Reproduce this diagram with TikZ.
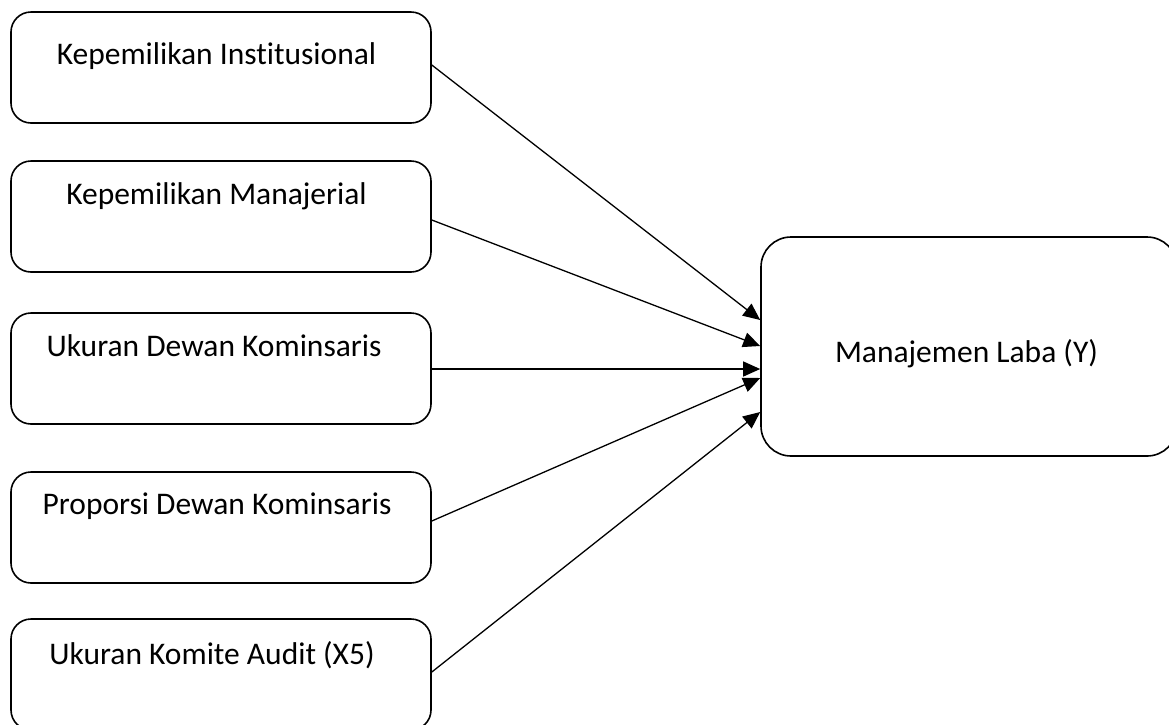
\documentclass[tikz,border=0pt]{standalone}
\usepackage{fontspec}
\setmainfont{Carlito}[Ligatures=NoCommon]
\usepackage{tikz}
\usetikzlibrary{positioning,arrows.meta,calc}

\begin{document}
\begin{tikzpicture}[
  x=1pt,y=-1pt,
  font=\fontsize{31.5pt}{38pt}\selectfont,>={Triangle[length=17pt,width=15pt]},
  var/.style={draw,line width=1.6pt,rounded corners=20pt,minimum width=420pt,minimum height=111pt,inner sep=0pt},
  dep/.style={draw,line width=1.6pt,rounded corners=30pt,minimum width=416pt,minimum height=219pt,inner sep=0pt},
  lbl/.style={anchor=base,inner sep=0pt},
  arr/.style={->,line width=1.3pt},
]
\clip (0,0) rectangle (1169,724);
% independent variables
\foreach \i/\yc/\base/\dx/\lab in {%
  1/67.5/53/-4.5/Kepemilikan Institusional,
  2/216.5/44/-4.5/Kepemilikan Manajerial,
  3/368.5/44/-7/Ukuran Dewan Kominsaris,
  4/527.5/43/-4/Proporsi Dewan Kominsaris,
  5/674.5/46/-9/Ukuran Komite Audit (X5)}{
  \node[var] (x\i) at (221,\yc) {};
  \node[lbl] (t\i) at ([xshift=\dx pt,yshift=-\base pt]x\i.north) {\lab};
}
% dependent variable
\node[dep] (y) at (969,346.5) {};
\node[lbl] (ty) at ([xshift=-2.5pt,yshift=-15.5pt]y.center) {Manajemen Laba (Y)};
% paths
\foreach \i/\ds/\de in {1/2.5/26.5,2/-3.5/0.5,3/-0.5/-22.5,4/6.5/-31.5,5/2.5/-65.5}{
  \draw[arr] ([yshift=\ds pt]x\i.east) -- ([yshift=\de pt]y.west);
}
\end{tikzpicture}
\end{document}
